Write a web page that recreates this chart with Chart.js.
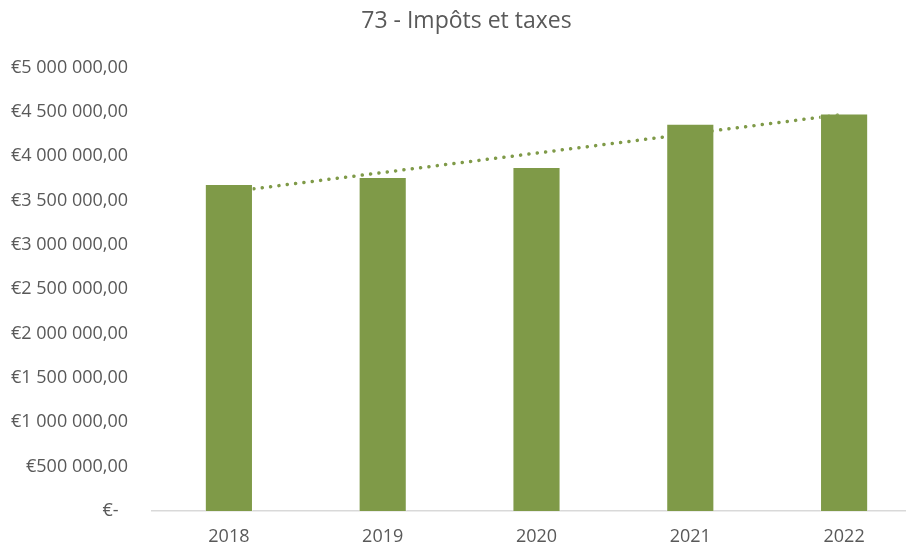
<!DOCTYPE html>
<html>
  <head>
    <meta charset="utf-8">
    <title>73 - Impôts et taxes</title>
    <script src="https://cdn.jsdelivr.net/npm/chart.js@4.4.1/dist/chart.umd.min.js"></script>
    <style>
      html, body { margin: 0; padding: 0; background: #fff; overflow: hidden; }
      .chart-container { position: relative; width: 921px; height: 552px; }
    </style>
  </head>
  <body>
    <div class="chart-container">
      <canvas id="gr1"></canvas>
    </div>
    <script>
    // Chapter 73 totals per year
    const years = ['2018', '2019', '2020', '2021', '2022'];
    const amounts = [3687000, 3766000, 3878000, 4366000, 4482000];
    const yTicks = [0, 500000, 1000000, 1500000, 2000000, 2500000, 3000000, 3500000, 4000000, 4500000, 5000000];

    const green = '#7F9A48';
    const grey = '#595959';
    const font = "'Open Sans', sans-serif";

    // least-squares linear trend over the bars
    function linearTrend(values) {
      let n = values.length;
      let mx = (n - 1) / 2;
      let my = values.reduce((a, b) => a + b, 0) / n;
      let num = 0, den = 0;
      values.forEach((v, i) => { num += (i - mx) * (v - my); den += (i - mx) * (i - mx); });
      let slope = num / den;
      return values.map((v, i) => my + slope * (i - mx));
    }

    // "€4 500 000,00" style, zero shown as "€-"
    function euro(v) {
      if (v === 0) return '€-  ';
      let s = Math.round(v).toString().replace(/\B(?=(\d{3})+(?!\d))/g, ' ');
      return '€' + s + ',00';
    }

    let config = {
      data: {
        labels: years,
        datasets: [
          {
            type: 'bar',
            data: amounts,
            backgroundColor: green,
            borderColor: 'rgba(255,255,255,0.45)',
            borderWidth: 1,
            barPercentage: 0.313,
            categoryPercentage: 1,
            order: 0
          },
          {
            type: 'line',
            data: linearTrend(amounts),
            borderColor: green,
            borderWidth: 3.5,
            borderDash: [0.1, 8.3],
            borderCapStyle: 'round',
            pointRadius: 0,
            fill: false,
            order: 1
          }
        ]
      },
      options: {
        responsive: true,
        maintainAspectRatio: false,
        animation: false,
        layout: { padding: 0 },
        plugins: {
          legend: { display: false },
          tooltip: { enabled: false },
          title: {
            display: true,
            // leading spaces nudge the centred title over the plot
            text: '  73 - Impôts et taxes',
            color: grey,
            font: { family: font, size: 23, weight: 'normal' },
            padding: { top: 8, bottom: 32 }
          }
        },
        scales: {
          x: {
            grid: { display: false, drawTicks: false },
            border: { display: true, color: '#D9D9D9', width: 1.5 },
            ticks: {
              color: grey,
              font: { family: font, size: 18 },
              padding: 15,
              maxRotation: 0
            },
            afterFit: (scale) => { scale.height = 41; }
          },
          y: {
            min: 0,
            max: 5000000,
            afterBuildTicks: (scale) => { scale.ticks = yTicks.map(v => ({ value: v })); },
            grid: { display: false, drawTicks: false },
            border: { display: false },
            ticks: {
              color: grey,
              font: { family: font, size: 18 },
              padding: 24,
              callback: (v) => euro(v)
            },
            afterFit: (scale) => { scale.width = 152; }
          }
        }
      }
    };

    var canv = document.getElementById('gr1');
    var ctx = canv.getContext('2d');
    let graph1 = new Chart(ctx, config);
    </script>
  </body>
</html>
